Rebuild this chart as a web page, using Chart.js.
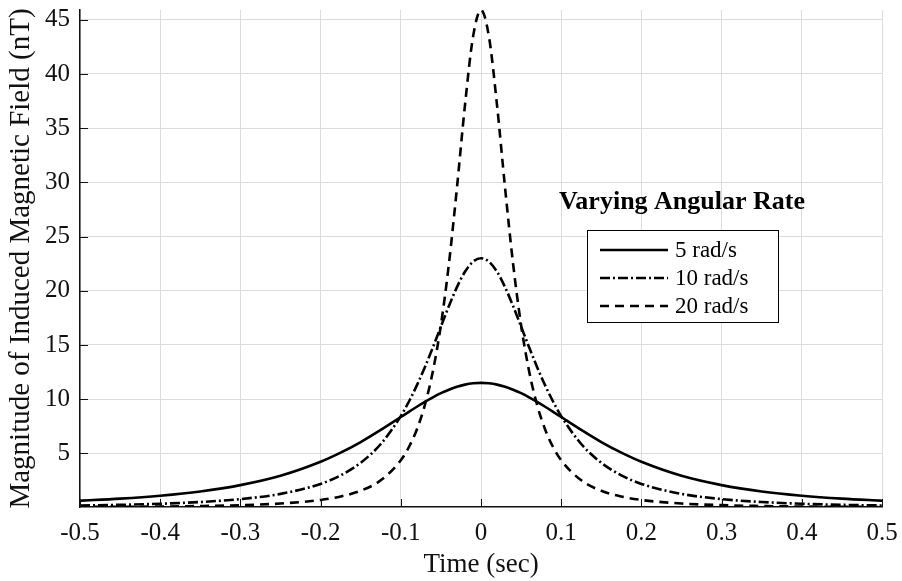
<!DOCTYPE html>
<html>
<head>
<meta charset="utf-8">
<script src="https://cdn.jsdelivr.net/npm/chart.js@4.4.1/dist/chart.umd.min.js"></script>
<style>
  html, body { margin: 0; padding: 0; background: #fff; }
  canvas { display: block; }
</style>
</head>
<body>
<canvas id="canvas-chart" width="902" height="581"></canvas>
<script>
// time axis (sec), denser near the peak
const timeSec = [-0.5, -0.45, -0.4, -0.35, -0.3, -0.25, -0.2, -0.175, -0.15, -0.125, -0.1,
  -0.09, -0.08, -0.07, -0.06, -0.05, -0.04, -0.03, -0.02, -0.01, 0,
  0.01, 0.02, 0.03, 0.04, 0.05, 0.06, 0.07, 0.08, 0.09, 0.1,
  0.125, 0.15, 0.175, 0.2, 0.25, 0.3, 0.35, 0.4, 0.45, 0.5];

// magnitude of induced field (nT)
const rate5 = [0.63, 0.82, 1.09, 1.48, 2.07, 2.93, 4.22, 5.06, 6.04, 7.16, 8.35,
  8.83, 9.30, 9.75, 10.17, 10.55, 10.87, 11.14, 11.34, 11.46, 11.50,
  11.46, 11.34, 11.14, 10.87, 10.55, 10.17, 9.75, 9.30, 8.83, 8.35,
  7.16, 6.04, 5.06, 4.22, 2.93, 2.07, 1.48, 1.09, 0.82, 0.63];
const rate10 = [0.19, 0.25, 0.35, 0.51, 0.78, 1.26, 2.18, 2.97, 4.13, 5.86, 8.43,
  9.76, 11.27, 12.95, 14.78, 16.70, 18.59, 20.33, 21.75, 22.68, 23.00,
  22.68, 21.75, 20.33, 18.59, 16.70, 14.78, 12.95, 11.27, 9.76, 8.43,
  5.86, 4.13, 2.97, 2.18, 1.26, 0.78, 0.51, 0.35, 0.25, 0.19];
const rate20 = [0.05, 0.07, 0.09, 0.14, 0.22, 0.37, 0.70, 1.02, 1.55, 2.51, 4.36,
  5.56, 7.20, 9.46, 12.57, 16.83, 22.49, 29.50, 37.11, 43.40, 45.90,
  43.40, 37.11, 29.50, 22.49, 16.83, 12.57, 9.46, 7.20, 5.56, 4.36,
  2.51, 1.55, 1.02, 0.70, 0.37, 0.22, 0.14, 0.09, 0.07, 0.05];

const seriesNames = ['5 rad/s', '10 rad/s', '20 rad/s'];
const legendTitle = 'Varying Angular Rate';

const xTicks = [-0.5, -0.4, -0.3, -0.2, -0.1, 0, 0.1, 0.2, 0.3, 0.4, 0.5];
const xTickLabels = ['-0.5', '-0.4', '-0.3', '-0.2', '-0.1', '0', '0.1', '0.2', '0.3', '0.4', '0.5'];
const yTicks = [5, 10, 15, 20, 25, 30, 35, 40, 45];
const yTickLabels = ['5', '10', '15', '20', '25', '30', '35', '40', '45'];

const FONT = '"Liberation Serif", "Times New Roman", serif';
const INK = '#111';

function points(values) {
  return timeSec.map((t, i) => ({ x: t, y: values[i] }));
}

// matlab style tick marks pointing into the plot
const inwardTicks = {
  id: 'inwardTicks',
  afterDatasetsDraw(chart) {
    const { ctx, chartArea, scales } = chart;
    ctx.save();
    ctx.strokeStyle = INK;
    ctx.lineWidth = 1;
    ctx.beginPath();
    yTicks.forEach(v => {
      const y = Math.round(scales.y.getPixelForValue(v)) + 0.5;
      ctx.moveTo(chartArea.left, y);
      ctx.lineTo(chartArea.left + 8, y);
    });
    xTicks.forEach(v => {
      const x = Math.round(scales.x.getPixelForValue(v)) + 0.5;
      ctx.moveTo(x, chartArea.bottom);
      ctx.lineTo(x, chartArea.bottom - 8);
    });
    ctx.stroke();
    ctx.restore();
  }
};

// boxed legend with a bold heading above it
const boxLegend = {
  id: 'boxLegend',
  afterDraw(chart) {
    const ctx = chart.ctx;
    ctx.save();
    ctx.fillStyle = '#000';
    ctx.font = 'bold 26px ' + FONT;
    ctx.textAlign = 'center';
    ctx.textBaseline = 'middle';
    ctx.fillText(legendTitle, 682, 202);

    ctx.fillStyle = '#fff';
    ctx.fillRect(587, 230, 191, 93);
    ctx.strokeStyle = '#000';
    ctx.lineWidth = 1;
    ctx.strokeRect(587.5, 230.5, 191, 92);

    ctx.font = '23px ' + FONT;
    ctx.textAlign = 'left';
    chart.data.datasets.forEach((ds, i) => {
      const y = 250 + i * 28;
      ctx.strokeStyle = ds.borderColor;
      ctx.lineWidth = ds.borderWidth;
      ctx.setLineDash(ds.borderDash || []);
      ctx.beginPath();
      ctx.moveTo(600, y);
      ctx.lineTo(668, y);
      ctx.stroke();
      ctx.fillStyle = '#000';
      ctx.fillText(ds.label, 675, y + 1);
    });
    ctx.restore();
  }
};

const ctx = document.getElementById('canvas-chart');

new Chart(ctx, {
  type: 'line',
  data: {
    datasets: [{
      label: seriesNames[0],
      data: points(rate5),
      borderColor: '#000',
      borderWidth: 2.6,
      borderDash: [],
    }, {
      label: seriesNames[1],
      data: points(rate10),
      borderColor: '#000',
      borderWidth: 2.6,
      borderDash: [10, 3, 2, 3],
    }, {
      label: seriesNames[2],
      data: points(rate20),
      borderColor: '#000',
      borderWidth: 2.6,
      borderDash: [9, 6],
    }]
  },
  options: {
    responsive: false,
    animation: false,
    elements: {
      point: { radius: 0 },
      line: { fill: false, cubicInterpolationMode: 'monotone' }
    },
    layout: {
      padding: { left: 0, right: 20, top: 10, bottom: 0 }
    },
    scales: {
      x: {
        type: 'linear',
        min: -0.5,
        max: 0.5,
        afterBuildTicks: s => { s.ticks = xTicks.map(v => ({ value: v })); },
        afterFit: s => { s.height = 74; s.paddingLeft = 0; s.paddingRight = 0; },
        ticks: {
          callback: (v, i) => xTickLabels[i],
          color: INK,
          autoSkip: false,
          maxRotation: 0,
          padding: 11,
          font: { family: FONT, size: 25 }
        },
        grid: { color: '#dcdcdc', lineWidth: 1, drawTicks: false },
        border: { color: INK, width: 1.5 },
        title: {
          display: true,
          text: 'Time (sec)',
          color: INK,
          padding: { top: 0, bottom: 0 },
          font: { family: FONT, size: 27 }
        }
      },
      y: {
        type: 'linear',
        min: 0.05,
        max: 45.9,
        afterBuildTicks: s => { s.ticks = yTicks.map(v => ({ value: v })); },
        afterFit: s => { s.width = 80; s.paddingTop = 0; s.paddingBottom = 0; },
        ticks: {
          callback: (v, i) => yTickLabels[i],
          color: INK,
          padding: 10,
          font: { family: FONT, size: 25 }
        },
        grid: { color: '#dcdcdc', lineWidth: 1, drawTicks: false },
        border: { color: INK, width: 1.5 },
        title: {
          display: true,
          text: 'Magnitude of Induced Magnetic Field (nT)',
          color: INK,
          padding: { top: 4, bottom: 0 },
          font: { family: FONT, size: 29 }
        }
      }
    },
    plugins: {
      legend: { display: false },
      tooltip: { enabled: false }
    }
  },
  plugins: [inwardTicks, boxLegend]
});
</script>
</body>
</html>
